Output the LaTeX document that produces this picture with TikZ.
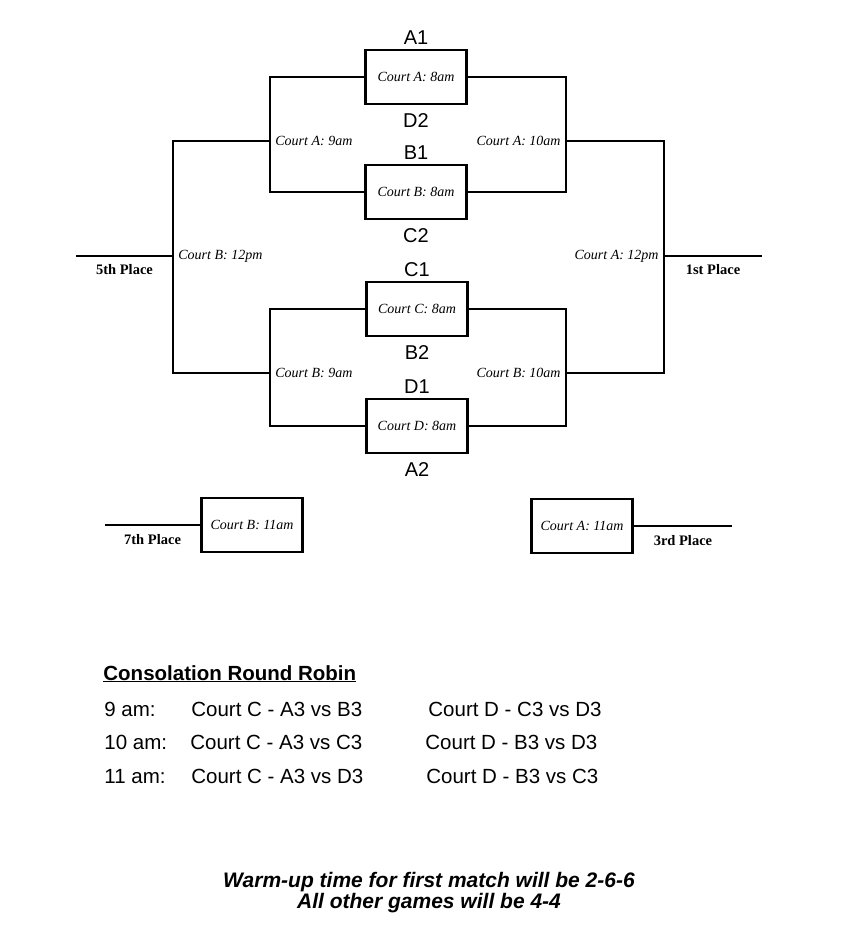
\documentclass[tikz,border=0pt]{standalone}
\usepackage{fontspec}
\setmainfont{Liberation Serif}
\setsansfont{Liberation Sans}
\usetikzlibrary{positioning}

\begin{document}
\begin{tikzpicture}[x=1pt,y=-1pt,line width=2.8pt,
  game/.style={draw, minimum width=101pt, minimum height=54pt, inner sep=0pt, font=\itshape\fontsize{14}{14}\selectfont},
  court/.style={inner sep=4pt, font=\itshape\fontsize{14}{14}\selectfont},
  seed/.style={inner sep=0pt, font=\sffamily\fontsize{20}{20}\selectfont},
  place/.style={inner sep=0pt, font=\bfseries\fontsize{14.5}{15}\selectfont},
  rr/.style={anchor=base west, inner sep=0pt, font=\sffamily\fontsize{20.5}{21}\selectfont},
  note/.style={anchor=base, inner sep=0pt, font=\sffamily\bfseries\itshape\fontsize{21}{21}\selectfont}]
\useasboundingbox (0,0) rectangle (864,930);

% first round
\node[game] (mA) at (416,77) {Court A: 8am};
\node[game] (mB) at (416,192) {Court B: 8am};
\node[game] (mC) at (417,309) {Court C: 8am};
\node[game] (mD) at (417,426) {Court D: 8am};
\node[seed, above=2.5pt of mA] (sA1) {A1};
\node[seed, below=7pt of mA] (sD2) {D2};
\node[seed, above=2.5pt of mB] (sB1) {B1};
\node[seed, below=7pt of mB] (sC2) {C2};
\node[seed, above=2.5pt of mC] (sC1) {C1};
\node[seed, below=7pt of mC] (sB2) {B2};
\node[seed, above=2.5pt of mD] (sD1) {D1};
\node[seed, below=7pt of mD] (sA2) {A2};

% brackets
\coordinate (jl1) at (270,141);
\coordinate (jr1) at (566,141);
\coordinate (jl2) at (270,373);
\coordinate (jr2) at (566,373);
\coordinate (jl) at (173,256);
\coordinate (jr) at (664,256);
\coordinate (p5) at (76,256);
\coordinate (p1) at (762,256);
\draw (mA.west) -| (jl1) |- (mB.west);
\draw (mA.east) -| (jr1) |- (mB.east);
\draw (mC.west) -| (jl2) |- (mD.west);
\draw (mC.east) -| (jr2) |- (mD.east);
\draw (jl1) -| (jl) |- (jl2);
\draw (jr1) -| (jr) |- (jr2);
\draw (jl) -- node[place, below=7pt] (t5) {5th Place} (p5);
\draw (jr) -- node[place, below=7pt] (t1) {1st Place} (p1);
\node[court, right] (cA9) at (jl1) {Court A: 9am};
\node[court, left] (cA10) at (jr1) {Court A: 10am};
\node[court, right] (cB9) at (jl2) {Court B: 9am};
\node[court, left] (cB10) at (jr2) {Court B: 10am};
\node[court, right] (cB12) at (jl) {Court B: 12pm};
\node[court, left] (cA12) at (jr) {Court A: 12pm};

% places 7 and 3
\node[game] (m7) at (252,525) {Court B: 11am};
\node[game] (m3) at (582,526) {Court A: 11am};
\coordinate (p7) at (105,525);
\coordinate (p3) at (732,526);
\draw (m7.west) -- node[place, below=8pt] (t7) {7th Place} (p7);
\draw (m3.east) -- node[place, below=8pt] (t3) {3rd Place} (p3);

% round robin
\node[rr, font=\sffamily\bfseries\fontsize{20.5}{21}\selectfont] (rrtitle) at (102,680) {\underline{Consolation Round Robin}};
\node[rr] (t9) at (103,716) {9 am:};
\node[rr] (c9) at (190,716) {Court C - A3 vs B3};
\node[rr] (d9) at (427,716) {Court D - C3 vs D3};
\node[rr] (t10) at (103,749) {10 am:};
\node[rr] (c10) at (189,749) {Court C - A3 vs C3};
\node[rr] (d10) at (424,749) {Court D - B3 vs D3};
\node[rr] (t11) at (103,783) {11 am:};
\node[rr] (c11) at (190,783) {Court C - A3 vs D3};
\node[rr] (d11) at (425,783) {Court D - B3 vs C3};

\node[note] (warm1) at (429,887) {Warm-up time for first match will be 2-6-6};
\node[note] (warm2) at (429,908) {All other games will be 4-4};

\end{tikzpicture}
\end{document}
